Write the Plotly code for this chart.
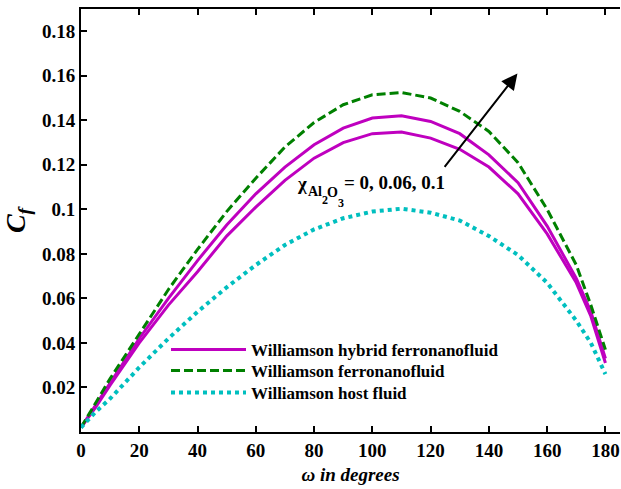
import plotly.graph_objects as go

omega = [0, 5, 10, 20, 30, 40, 50, 60, 70, 80, 90, 100, 110, 120, 130, 140, 150, 160, 170, 175, 180]

hybrid_high = [0.002, 0.012, 0.022, 0.042, 0.060, 0.077, 0.093, 0.107, 0.119, 0.129, 0.1365, 0.141,
               0.142, 0.1395, 0.134, 0.1245, 0.112, 0.0925, 0.069, 0.054, 0.033]
hybrid_low = [0.002, 0.011, 0.021, 0.040, 0.057, 0.072, 0.088, 0.101, 0.113, 0.123, 0.130, 0.134,
              0.1347, 0.132, 0.127, 0.119, 0.107, 0.089, 0.067, 0.052, 0.031]
ferro = [0.002, 0.013, 0.024, 0.044, 0.064, 0.082, 0.099, 0.114, 0.128, 0.139, 0.147, 0.1515,
         0.1525, 0.150, 0.144, 0.135, 0.121, 0.100, 0.075, 0.057, 0.037]
host = [0.002, 0.009, 0.015, 0.029, 0.042, 0.054, 0.065, 0.075, 0.084, 0.091, 0.096, 0.099,
        0.1003, 0.0985, 0.095, 0.088, 0.0795, 0.067, 0.050, 0.040, 0.026]

x_ticks = [0, 20, 40, 60, 80, 100, 120, 140, 160, 180]
y_ticks = [0.02, 0.04, 0.06, 0.08, 0.1, 0.12, 0.14, 0.16, 0.18]
y_ticklabels = ["0.02", "0.04", "0.06", "0.08", "0.1", "0.12", "0.14", "0.16", "0.18"]

MAG = "#BF00BF"
GRN = "#008000"
CYN = "#00BFBF"
FONT = "Liberation Serif"

def f(size):
    return dict(family=FONT, size=size, color="black", weight="bold")

fig = go.Figure()
fig.add_trace(go.Scatter(x=omega, y=hybrid_low, mode="lines", line=dict(color=MAG, width=3),
                         showlegend=False))
fig.add_trace(go.Scatter(x=omega, y=hybrid_high, mode="lines", line=dict(color=MAG, width=3),
                         name="Williamson hybrid ferronanofluid", legend="legend"))
fig.add_trace(go.Scatter(x=omega, y=ferro, mode="lines", line=dict(color=GRN, width=3, dash="9px,4px"),
                         name="Williamson ferronanofluid", legend="legend2"))
fig.add_trace(go.Scatter(x=omega, y=host, mode="lines", line=dict(color=CYN, width=4, dash="4px,4px"),
                         name="Williamson host fluid", legend="legend3"))

# annotation arrow
fig.add_annotation(x=149.8, y=0.161, ax=124.4, ay=0.1184, xref="x", yref="y", axref="x", ayref="y",
                   text="", showarrow=True, arrowhead=2, arrowsize=1.6, arrowwidth=2, arrowcolor="black")

def px_to_paper(px, py):
    return (px - 81) / 539, (432 - py) / 423

annots = [
    ("χ", 302, 183, 19),
    ("Al", 315, 192, 14),
    ("2", 325, 200, 12),
    ("O", 332, 193, 14),
    ("3", 341, 203, 12),
    ("= 0, 0.06, 0.1", 394, 182, 19),
]
for t, px, py, sz in annots:
    xp, yp = px_to_paper(px, py)
    fig.add_annotation(x=xp, y=yp, xref="paper", yref="paper", text=t, showarrow=False,
                       xanchor="center", yanchor="middle", font=f(sz))

def leg(top):
    lx, ly = px_to_paper(166, top)
    return dict(x=lx, y=ly, xanchor="left", yanchor="top", bgcolor="rgba(0,0,0,0)",
                font=f(17), itemwidth=75)

fig.update_layout(
    width=621, height=489,
    margin=dict(l=81, r=1, t=9, b=57),
    paper_bgcolor="white", plot_bgcolor="white",
    showlegend=True,
    legend=leg(332), legend2=leg(353), legend3=leg(375),
    font=dict(family=FONT, color="black"),
)

fig.update_xaxes(range=[0, 185], tickvals=x_ticks, ticks="inside", ticklen=6, tickwidth=1.5,
                 tickcolor="black", showline=True, linewidth=2, linecolor="black", mirror="allticks",
                 showgrid=False, zeroline=False, tickfont=f(19),
                 title=dict(text="<i>ω in degrees</i>", standoff=8, font=f(19)))
fig.update_yaxes(range=[0, 0.19], tickvals=y_ticks, ticktext=y_ticklabels, ticks="inside", ticklen=6,
                 tickwidth=1.5, tickcolor="black", showline=True, linewidth=2, linecolor="black",
                 mirror=False, showgrid=False, zeroline=False, tickfont=f(19),
                 title=dict(text="<i>C<sub>f</sub></i>", standoff=14, font=f(28)))

fig.write_html("out.html")
